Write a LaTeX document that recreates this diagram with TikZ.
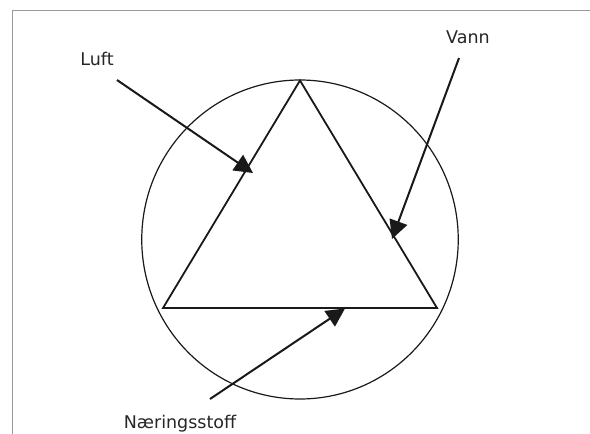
\documentclass[tikz,border=0pt]{standalone}
\usepackage{fontspec}
\setmainfont{DejaVu Sans}
\usetikzlibrary{arrows.meta,shapes.geometric}
\begin{document}
\begin{tikzpicture}[x=1pt,y=-1pt,
  frame/.style={draw=black!40, line width=1pt},
  trishape/.style={draw=black!90, line width=1.8pt, line join=miter},
  ring/.style={draw=black!90, line width=1.2pt},
  arr/.style={draw=black!90, line width=2pt, -{Triangle[length=18.5pt,width=18.5pt]}},
  lbl/.style={font=\fontsize{17.5}{20}\selectfont, text=black!85, anchor=base, inner sep=0pt}]
\useasboundingbox (0,0) rectangle (590,434);
\fill[white] (0,0) rectangle (590,434);
\draw[frame] (12,434) -- (12,10) -- (590,10);
% circle
\node[ring, ellipse, minimum width=316.5pt, minimum height=319pt, inner sep=0pt] (ring) at (300,239.5) {};
% triangle
\coordinate (apex) at (300,80.5);
\coordinate (bl) at (163,308);
\coordinate (br) at (437,308);
\draw[trishape] (apex) -- (bl) -- (br) -- cycle;
% labels
\node[lbl] (luft) at (97,65.5) {Luft};
\node[lbl] (vann) at (468,43.5) {Vann};
\node[lbl] (naer) at (180,428) {Næringsstoff};
% arrow ends
\coordinate (luftS) at (117,80);
\coordinate (luftT) at (253,173);
\coordinate (vannS) at (459,58);
\coordinate (vannT) at (392,239);
\coordinate (naerS) at (210,399);
\coordinate (naerT) at (345,308.5);
\draw[arr] (luftS) -- (luftT);
\draw[arr] (vannS) -- (vannT);
\draw[arr] (naerS) -- (naerT);
\end{tikzpicture}
\end{document}
